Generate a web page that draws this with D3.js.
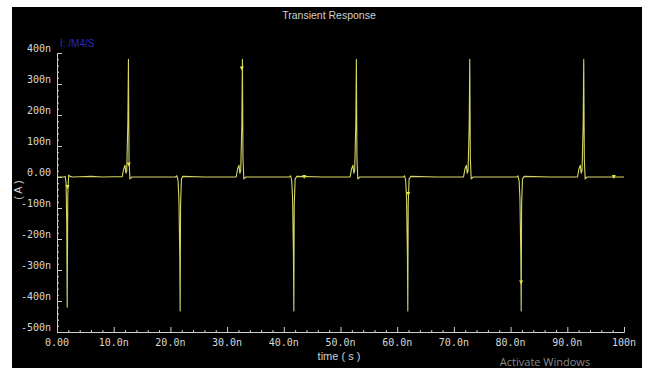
<!DOCTYPE html>
<html>
<head>
<meta charset="utf-8">
<script src="https://cdn.jsdelivr.net/npm/d3@7"></script>
<style>
  html, body { margin: 0; padding: 0; background: #fff; }
  svg { display: block; }
</style>
</head>
<body>
<svg id="chart"></svg>
<script>
// current through /M4/S, time in ns, current in nA
const timeNs = [
  0, 1.2, 1.45, 1.6, 1.72, 1.8, 1.9, 2.05, 2.3, 2.7, 4, 6, 8, 10, 11.5,
  11.75, 12.0, 12.15, 12.3, 12.5, 12.6, 12.7, 12.85, 13.2, 16, 20.9,
  21.15, 21.35, 21.5, 21.65, 21.72, 21.79, 21.95, 22.2, 26, 31.6,
  31.85, 32.1, 32.25, 32.4, 32.6, 32.7, 32.8, 32.95, 33.3, 37, 41.0,
  41.2, 41.4, 41.55, 41.7, 41.77, 41.84, 42.0, 42.3, 47, 51.7,
  51.95, 52.2, 52.35, 52.5, 52.7, 52.8, 52.9, 53.05, 53.4, 57, 61.1,
  61.3, 61.5, 61.65, 61.8, 61.87, 61.94, 62.1, 62.4, 67, 71.7,
  71.95, 72.2, 72.35, 72.5, 72.7, 72.8, 72.9, 73.05, 73.4, 77, 81.1,
  81.3, 81.5, 81.65, 81.8, 81.87, 81.94, 82.1, 82.4, 87, 91.8,
  92.05, 92.3, 92.45, 92.6, 92.8, 92.9, 93.0, 93.15, 93.5, 97, 100
];
const currentNa = [
  0, 0, 2, -20, -150, -420, -60, 6, 2, 0, 1, 2, 0, 1, 1,
  25, 38, 12, 20, 180, 380, 60, -6, 0, 0, 0,
  4, -12, -70, -250, -432, -90, -6, 2, 0, 0,
  26, 38, 12, 20, 170, 380, 60, -6, 0, 0, 0,
  4, -12, -70, -250, -432, -90, -6, 2, 0, 0,
  26, 38, 12, 20, 170, 380, 60, -6, 0, 0, 0,
  4, -12, -70, -250, -432, -90, -6, 2, 0, 0,
  26, 38, 12, 20, 170, 380, 60, -6, 0, 0, 0,
  4, -12, -70, -250, -432, -90, -6, 2, 0, 0,
  26, 38, 12, 20, 170, 380, 60, -6, 0, 0, 0
];
// plot markers (small triangles on the trace)
const markT = [1.85, 12.65, 32.6, 43.6, 61.95, 81.85, 98.2];
const markI = [-32, 40, 350, 0, -55, -340, 0];

const xTicks = [0, 10, 20, 30, 40, 50, 60, 70, 80, 90, 100];
const xTickLabels = ["0.00", "10.0n", "20.0n", "30.0n", "40.0n", "50.0n", "60.0n", "70.0n", "80.0n", "90.0n", "100n"];
const yTicks = [400, 300, 200, 100, 0, -100, -200, -300, -400, -500];
const yTickLabels = ["400n", "300n", "200n", "100n", "0.00", "-100n", "-200n", "-300n", "-400n", "-500n"];

const width = 648, height = 369;
const svg = d3.select('#chart').attr('width', width).attr('height', height);

svg.append('rect')
  .attr('x', 12).attr('y', 7)
  .attr('width', 630).attr('height', 361)
  .attr('fill', '#000');

const x = d3.scaleLinear().domain([0, 100]).range([57, 624]);
const y = d3.scaleLinear().domain([-500, 400]).range([332, 53]);

const axisColor = '#cfcfcf';
const mono = '"DejaVu Sans Mono", "Liberation Mono", monospace';

// x axis
const xAxis = svg.append('g')
  .attr('transform', `translate(0,${y(-500)})`)
  .call(d3.axisTop(x).tickValues(d3.range(0, 101, 2)).tickSize(2).tickFormat(''));
xAxis.select('.domain').attr('stroke', axisColor);
xAxis.selectAll('.tick line').attr('stroke', axisColor)
  .attr('y2', d => xTicks.includes(d) ? -5 : -2);

svg.append('g').selectAll('text')
  .data(xTicks)
  .join('text')
  .attr('x', d => x(d))
  .attr('y', 346)
  .attr('text-anchor', 'middle')
  .attr('fill', '#d8d8d8')
  .attr('font-family', mono)
  .attr('font-size', 10)
  .text((d, i) => xTickLabels[i]);

// y axis
const yAxis = svg.append('g')
  .attr('transform', `translate(${x(0)},0)`)
  .call(d3.axisRight(y).tickValues(d3.range(-500, 401, 20)).tickSize(2).tickFormat(''));
yAxis.select('.domain').attr('stroke', axisColor);
yAxis.selectAll('.tick line').attr('stroke', axisColor)
  .attr('x2', d => yTicks.includes(d) ? 5 : 2);

svg.append('g').selectAll('text')
  .data(yTicks)
  .join('text')
  .attr('x', 51)
  .attr('y', d => y(d) - 1)
  .attr('text-anchor', 'end')
  .attr('fill', '#d8d8d8')
  .attr('font-family', mono)
  .attr('font-size', 10)
  .text((d, i) => yTickLabels[i]);

// trace
const pts = timeNs.map((t, i) => [t, currentNa[i]]);
const line = d3.line().x(d => x(d[0])).y(d => y(d[1]));
svg.append('path')
  .datum(pts)
  .attr('d', line)
  .attr('fill', 'none')
  .attr('stroke', '#d6d666')
  .attr('stroke-width', 1.1)
  .attr('stroke-linejoin', 'round');

// markers
svg.append('g').selectAll('path')
  .data(markT)
  .join('path')
  .attr('transform', (d, i) => `translate(${x(d)},${y(markI[i])})`)
  .attr('d', 'M-2,-2L2,-2L0,2Z')
  .attr('fill', '#e8e840');

// texts
svg.append('text')
  .attr('x', 329).attr('y', 19)
  .attr('text-anchor', 'middle')
  .attr('fill', '#d0d0d0')
  .attr('font-family', '"Liberation Sans Narrow", "Liberation Sans", sans-serif')
  .attr('font-size', 10.5)
  .text('Transient Response');

svg.append('text')
  .attr('x', 60).attr('y', 47)
  .attr('fill', '#2a2ac0')
  .attr('font-family', '"Liberation Sans Narrow", "Liberation Sans", sans-serif')
  .attr('font-size', 10)
  .text('I: /M4/S');

svg.append('text')
  .attr('transform', 'translate(22,190) rotate(-90)')
  .attr('text-anchor', 'middle')
  .attr('fill', '#d0d0d0')
  .attr('font-family', '"Liberation Sans", sans-serif')
  .attr('font-size', 11)
  .text('( A )');

svg.append('text')
  .attr('x', 339).attr('y', 360)
  .attr('text-anchor', 'middle')
  .attr('fill', '#d0d0d0')
  .attr('font-family', '"Liberation Sans Narrow", "Liberation Sans", sans-serif')
  .attr('font-size', 11)
  .text('time ( s )');

svg.append('text')
  .attr('x', 545).attr('y', 366)
  .attr('text-anchor', 'middle')
  .attr('fill', '#8a8a8a')
  .attr('font-family', '"Open Sans", sans-serif')
  .attr('font-size', 11)
  .text('Activate Windows');
</script>
</body>
</html>
